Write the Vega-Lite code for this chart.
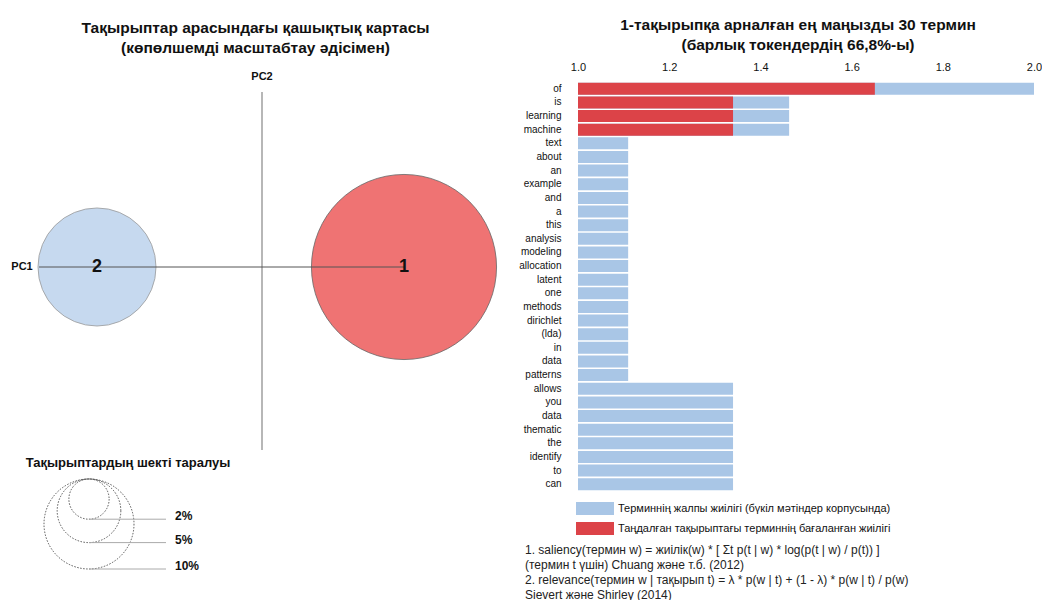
{
  "$schema": "https://vega.github.io/schema/vega-lite/v6.json",
  "background": "white",
  "padding": {"left": 0, "top": 17, "right": 0, "bottom": 0},
  "config": {
    "font": "Liberation Sans",
    "view": {"stroke": null},
    "title": {"fontSize": 15.5, "fontWeight": "bold", "color": "#111", "lineHeight": 20, "offset": 8}
  },
  "spacing": 11,
  "resolve": {"scale": {"color": "independent", "size": "independent", "fill": "independent", "stroke": "independent"}, "legend": {"color": "independent"}},
  "hconcat": [
    {
      "width": 505,
      "height": 508,
      "title": {"text": ["Тақырыптар арасындағы қашықтық картасы", "(көпөлшемді масштабтау әдісімен)"], "dx": 3, "offset": 15},
      "encoding": {
        "x": {"field": "x", "type": "quantitative", "scale": {"domain": [-0.262, 0.243], "nice": false, "zero": false}, "axis": null},
        "y": {"field": "y", "type": "quantitative", "scale": {"domain": [-0.323, 0.185], "nice": false, "zero": false}, "axis": null}
      },
      "layer": [
        {
          "data": {"values": [
            {"topic": "1", "x": 0.142, "y": 0, "pct": 42.3},
            {"topic": "2", "x": -0.165, "y": 0, "pct": 17.2}
          ]},
          "mark": {"type": "point", "shape": "circle", "filled": true, "opacity": 1, "strokeWidth": 0.8},
          "encoding": {
            "size": {"field": "pct", "type": "quantitative", "scale": {"type": "linear", "domain": [0, 10], "range": [0, 8100]}, "legend": null},
            "fill": {"field": "topic", "type": "nominal", "scale": {"domain": ["1", "2"], "range": ["#ef7373", "#c6d9ef"]}, "legend": null},
            "stroke": {"field": "topic", "type": "nominal", "scale": {"domain": ["1", "2"], "range": ["#666666", "#999999"]}, "legend": null}
          }
        },
        {
          "data": {"values": [{"axis": "PC2", "x": 0, "x2": 0, "y": 0.175, "y2": -0.183}]},
          "mark": {"type": "rule", "color": "#999999", "strokeWidth": 1.4},
          "encoding": {"x2": {"field": "x2"}, "y2": {"field": "y2"}}
        },
        {
          "data": {"values": [{"axis": "PC1", "x": -0.223, "x2": 0.142, "y": 0, "y2": 0}]},
          "mark": {"type": "rule", "color": "#555555", "strokeWidth": 1},
          "encoding": {"x2": {"field": "x2"}}
        },
        {
          "data": {"values": [
            {"topic": "1", "x": 0.142, "y": 0},
            {"topic": "2", "x": -0.165, "y": 0}
          ]},
          "mark": {"type": "text", "fontSize": 18, "fontWeight": "bold", "color": "#111", "align": "center", "baseline": "middle"},
          "encoding": {"text": {"field": "topic"}}
        },
        {
          "data": {"values": [
            {"label": "PC1", "x": -0.24, "y": 0},
            {"label": "PC2", "x": 0, "y": 0.19}
          ]},
          "mark": {"type": "text", "fontSize": 11, "fontWeight": "bold", "color": "#111", "align": "center", "baseline": "middle"},
          "encoding": {"text": {"field": "label"}}
        },
        {
          "data": {"values": [{"label": "Тақырыптардың шекті таралуы", "x": -0.134, "y": -0.196}]},
          "mark": {"type": "text", "fontSize": 13, "fontWeight": "bold", "color": "#111", "align": "center", "baseline": "middle"},
          "encoding": {"text": {"field": "label"}}
        },
        {
          "data": {"values": [
            {"pct": 10, "x": -0.173, "y": -0.257},
            {"pct": 5, "x": -0.173, "y": -0.2438},
            {"pct": 2, "x": -0.173, "y": -0.2321}
          ]},
          "mark": {"type": "point", "shape": "circle", "filled": false, "opacity": 1, "color": "#444444", "strokeWidth": 0.9, "strokeDash": [1.5, 1.5]},
          "encoding": {
            "size": {"field": "pct", "type": "quantitative", "scale": {"type": "linear", "domain": [0, 10], "range": [0, 8100]}, "legend": null}
          }
        },
        {
          "data": {"values": [
            {"label": "2%", "x": -0.173, "x2": -0.096, "y": -0.2522},
            {"label": "5%", "x": -0.173, "x2": -0.096, "y": -0.2756},
            {"label": "10%", "x": -0.173, "x2": -0.096, "y": -0.302}
          ]},
          "layer": [
            {
              "mark": {"type": "rule", "color": "#aaaaaa", "strokeWidth": 1},
              "encoding": {"x2": {"field": "x2"}}
            },
            {
              "mark": {"type": "text", "fontSize": 12, "fontWeight": "bold", "color": "#111", "align": "left", "baseline": "middle", "dx": 86, "dy": -3},
              "encoding": {"text": {"field": "label"}}
            }
          ]
        }
      ]
    },
    {
      "width": 456,
      "height": 409,
      "title": {"text": ["1-тақырыпқа арналған ең маңызды 30 термин", "(барлық токендердің 66,8%-ы)"], "dx": -8},
      "resolve": {"scale": {"y": "independent"}, "axis": {"y": "independent"}},
      "layer": [
        {
          "data": {"values": [
            {"key": "01|of", "term": "of", "total": 2.0, "topic": 1.651},
            {"key": "02|is", "term": "is", "total": 1.463, "topic": 1.34},
            {"key": "03|learning", "term": "learning", "total": 1.463, "topic": 1.34},
            {"key": "04|machine", "term": "machine", "total": 1.463, "topic": 1.34},
            {"key": "05|text", "term": "text", "total": 1.11},
            {"key": "06|about", "term": "about", "total": 1.11},
            {"key": "07|an", "term": "an", "total": 1.11},
            {"key": "08|example", "term": "example", "total": 1.11},
            {"key": "09|and", "term": "and", "total": 1.11},
            {"key": "10|a", "term": "a", "total": 1.11},
            {"key": "11|this", "term": "this", "total": 1.11},
            {"key": "12|analysis", "term": "analysis", "total": 1.11},
            {"key": "13|modeling", "term": "modeling", "total": 1.11},
            {"key": "14|allocation", "term": "allocation", "total": 1.11},
            {"key": "15|latent", "term": "latent", "total": 1.11},
            {"key": "16|one", "term": "one", "total": 1.11},
            {"key": "17|methods", "term": "methods", "total": 1.11},
            {"key": "18|dirichlet", "term": "dirichlet", "total": 1.11},
            {"key": "19|(lda)", "term": "(lda)", "total": 1.11},
            {"key": "20|in", "term": "in", "total": 1.11},
            {"key": "21|data", "term": "data", "total": 1.11},
            {"key": "22|patterns", "term": "patterns", "total": 1.11},
            {"key": "23|allows", "term": "allows", "total": 1.34},
            {"key": "24|you", "term": "you", "total": 1.34},
            {"key": "25|data", "term": "data", "total": 1.34},
            {"key": "26|thematic", "term": "thematic", "total": 1.34},
            {"key": "27|the", "term": "the", "total": 1.34},
            {"key": "28|identify", "term": "identify", "total": 1.34},
            {"key": "29|to", "term": "to", "total": 1.34},
            {"key": "30|can", "term": "can", "total": 1.34}
          ]},
          "encoding": {
            "y": {
              "field": "key", "type": "nominal", "sort": null,
              "scale": {"paddingInner": 0.12, "paddingOuter": 0.06},
              "axis": {"title": null, "domain": false, "ticks": false, "labelPadding": 17, "labelFontSize": 10, "labelColor": "#111", "labelExpr": "split(datum.value, '|')[1]", "minExtent": 62, "maxExtent": 62}
            }
          },
          "layer": [
            {
              "mark": {"type": "bar"},
              "encoding": {
                "x": {
                  "field": "total", "type": "quantitative",
                  "scale": {"domain": [1, 2], "nice": false, "zero": false},
                  "axis": {"orient": "top", "values": [1, 1.2, 1.4, 1.6, 1.8, 2], "format": ".1f", "domain": false, "ticks": false, "grid": false, "labelFlush": false, "labelFontSize": 11, "labelPadding": 10, "labelColor": "#111", "title": null}
                },
                "x2": {"datum": 1},
                "color": {
                  "datum": "Терминнің жалпы жиілігі (бүкіл мәтіндер корпусында)",
                  "scale": {"domain": ["Терминнің жалпы жиілігі (бүкіл мәтіндер корпусында)", "Таңдалған тақырыптағы терминнің бағаланған жиілігі"], "range": ["#a9c6e6", "#dc4348"]},
                  "legend": {"orient": "none", "legendX": 7.5, "legendY": 417, "title": null, "direction": "vertical", "symbolType": "M-2,-0.68H2V0.68H-2Z", "symbolSize": 361, "symbolStrokeWidth": 0, "labelFontSize": 11, "labelLimit": 600, "labelColor": "#111", "rowPadding": 4, "labelOffset": 13.5}
                }
              }
            },
            {
              "mark": {"type": "bar"},
              "encoding": {
                "x": {"field": "topic", "type": "quantitative"},
                "x2": {"datum": 1},
                "color": {"datum": "Таңдалған тақырыптағы терминнің бағаланған жиілігі"}
              }
            }
          ]
        },
        {
          "data": {"values": [
            {"line": 1, "text": "1. saliency(термин w) = жиілік(w) * [ Σt p(t | w) * log(p(t | w) / p(t)) ]"},
            {"line": 2, "text": "\u00a0\u00a0\u00a0(термин t үшін) Chuang және т.б. (2012)"},
            {"line": 3, "text": "2. relevance(термин w | тақырып t) = λ * p(w | t) + (1 - λ) * p(w | t) / p(w)"},
            {"line": 4, "text": "\u00a0\u00a0\u00a0Sievert және Shirley (2014)"}
          ]},
          "mark": {"type": "text", "align": "left", "baseline": "middle", "fontSize": 12, "color": "#222", "dx": -53},
          "encoding": {
            "y": {"field": "line", "type": "quantitative", "axis": null, "scale": {"domain": [-30.2, -2.933], "reverse": true, "nice": false, "zero": false}},
            "x": {"datum": 1},
            "text": {"field": "text"}
          }
        }
      ]
    }
  ]
}
